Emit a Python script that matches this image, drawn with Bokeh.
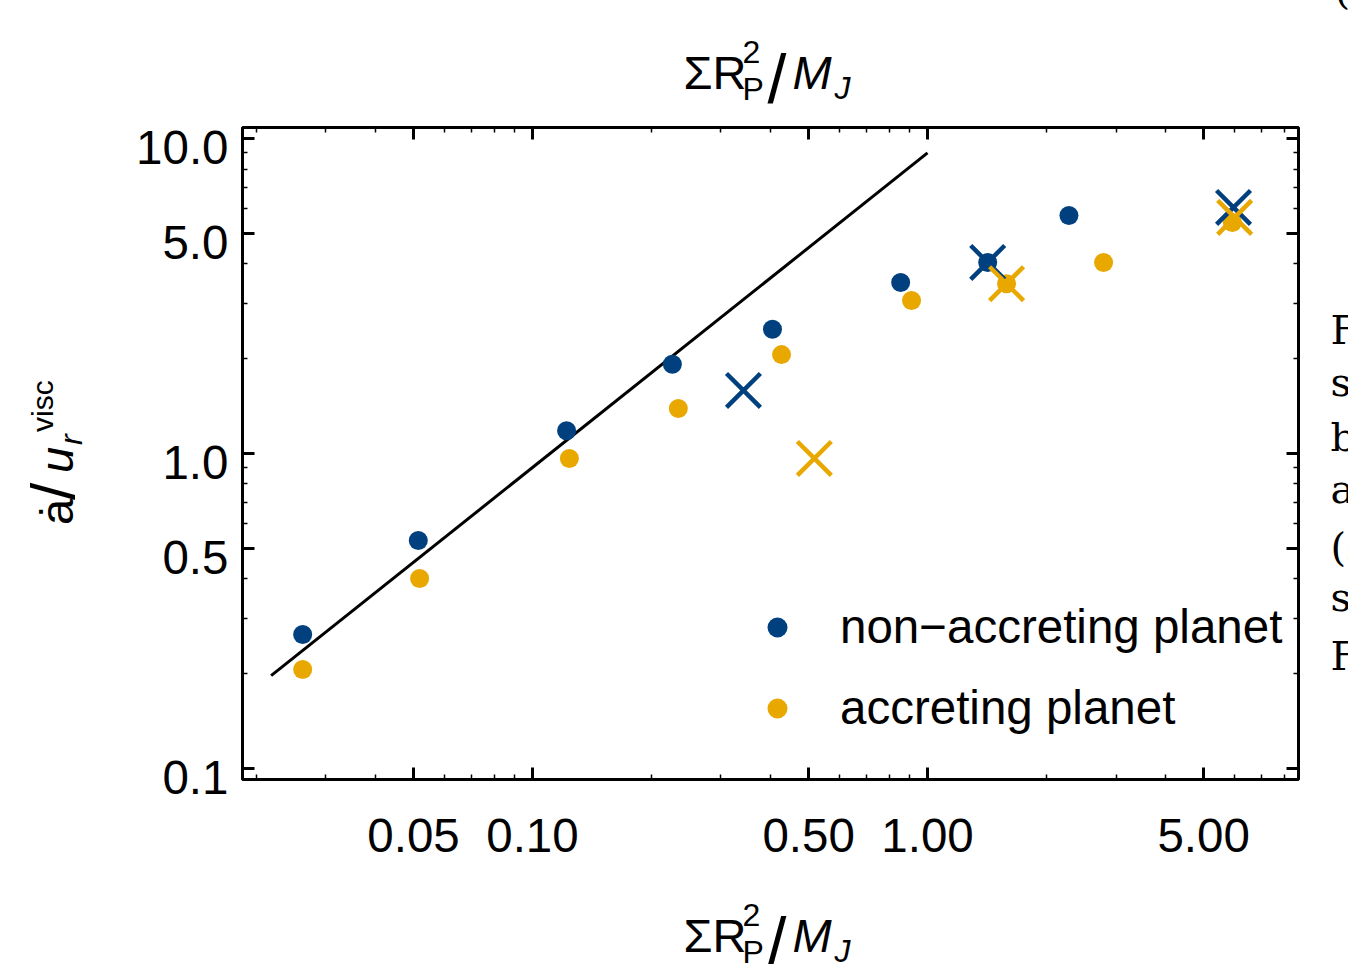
import math
from bokeh.plotting import figure
from bokeh.models import (LogAxis, FixedTicker, NumeralTickFormatter, CustomJSTickFormatter,
                          Range1d, LogScale, Legend, LegendItem, ColumnDataSource)
from bokeh.core.properties import value
from bokeh.embed import file_html
from bokeh.resources import INLINE

# ---------------- data ----------------
blue_x = [0.0262, 0.0514, 0.122, 0.226, 0.405, 0.855, 1.42, 2.28]
blue_y = [0.266, 0.529, 1.18, 1.92, 2.48, 3.49, 4.04, 5.70]
orange_x = [0.0262, 0.0518, 0.124, 0.234, 0.427, 0.911, 1.585, 2.79, 5.91]
orange_y = [0.206, 0.401, 0.964, 1.39, 2.06, 3.06, 3.46, 4.04, 5.41]
blue_cross_x = [0.342, 1.42, 5.95]
blue_cross_y = [1.585, 4.04, 6.04]
orange_cross_x = [0.517, 1.585, 5.99]
orange_cross_y = [0.964, 3.46, 5.62]
fit_x = [0.0218, 1.0]
fit_y = [0.197, 9.0]

x_ticks = [0.05, 0.1, 0.5, 1.0, 5.0]
x_minor = [0.02, 0.03, 0.04, 0.06, 0.07, 0.08, 0.09, 0.2, 0.3, 0.4,
           0.6, 0.7, 0.8, 0.9, 2, 3, 4, 6, 7, 8]
y_ticks = [0.1, 0.5, 1.0, 5.0, 10.0]
y_minor = [0.2, 0.3, 0.4, 0.6, 0.7, 0.8, 0.9, 2, 3, 4, 6, 7, 8, 9]

labels = ["non\u2212accreting planet", "accreting planet"]

BLUE = "#00407F"
ORANGE = "#E8A800"
FONT = "Liberation Sans"
SERIF = "DejaVu Serif"
FS = "47.5px"

XMIN, XMAX = 0.01845, 8.69
YMIN, YMAX = 0.0922, 10.84
K = 10 ** (9 / 315)  # tick-label vertical shift

FL, FB = 242, 779.5  # frame left / bottom in page pixels
BASE = 0.37          # baseline correction (fraction of font size)

p = figure(width=1348, height=964, x_axis_type="log", y_axis_type="log",
           x_range=Range1d(XMIN, XMAX), y_range=Range1d(YMIN, YMAX),
           output_backend="svg", toolbar_location=None,
           min_border_left=242, min_border_right=50,
           min_border_top=127, min_border_bottom=185)
p.grid.visible = False
p.outline_line_color = "black"
p.outline_line_width = 3
p.background_fill_color = "white"
p.border_fill_color = "white"


def style(ax, ticks, minor):
    ax.ticker = FixedTicker(ticks=ticks, minor_ticks=minor)
    ax.axis_line_color = None
    ax.major_tick_in = 12
    ax.major_tick_out = 0
    ax.major_tick_line_width = 3
    ax.major_tick_line_color = "black"
    ax.minor_tick_in = 5
    ax.minor_tick_out = 0
    ax.minor_tick_line_width = 1.5
    ax.minor_tick_line_color = "black"


def nolabels(ax):
    ax.formatter = CustomJSTickFormatter(code="return ''")
    ax.major_label_text_font_size = "1px"
    ax.major_label_standoff = 0


# bottom axis (with labels)
xb = p.xaxis[0]
style(xb, x_ticks, x_minor)
xb.formatter = NumeralTickFormatter(format="0.00")
xb.major_label_text_font = FONT
xb.major_label_text_font_size = FS
xb.major_label_text_color = "black"
xb.major_label_standoff = 39

# left axis: ticks only
yl = p.yaxis[0]
style(yl, y_ticks, y_minor)
nolabels(yl)

# left label axis (labels slightly below ticks, as in the reference)
p.extra_y_ranges = {"lab": Range1d(YMIN * K, YMAX * K)}
p.extra_y_scales = {"lab": LogScale()}
ylab = LogAxis(y_range_name="lab", ticker=FixedTicker(ticks=y_ticks),
               formatter=NumeralTickFormatter(format="0.0"))
ylab.axis_line_color = None
ylab.major_tick_line_color = None
ylab.minor_tick_line_color = None
ylab.major_tick_in = 0
ylab.major_tick_out = 0
ylab.minor_tick_in = 0
ylab.minor_tick_out = 0
ylab.major_label_text_font = FONT
ylab.major_label_text_font_size = FS
ylab.major_label_text_color = "black"
ylab.major_label_standoff = 14
p.add_layout(ylab, "left")

# top and right mirrored axes
xt = LogAxis()
style(xt, x_ticks, x_minor)
nolabels(xt)
p.add_layout(xt, "above")
yr = LogAxis()
style(yr, y_ticks, y_minor)
nolabels(yr)
p.add_layout(yr, "right")

# ---------------- glyphs ----------------
p.line(fit_x, fit_y, line_color="black", line_width=3)
rb = p.scatter(blue_x, blue_y, size=19, marker="circle", fill_color=BLUE, line_color=None)
ro = p.scatter(orange_x, orange_y, size=19, marker="circle", fill_color=ORANGE, line_color=None)
p.scatter(blue_cross_x, blue_cross_y, size=48, marker="x", line_color=BLUE, line_width=4.5)
p.scatter(orange_cross_x, orange_cross_y, size=48, marker="x", line_color=ORANGE, line_width=4.5)

legend = Legend(items=[LegendItem(label=value(labels[0]), renderers=[rb]),
                       LegendItem(label=value(labels[1]), renderers=[ro])],
                location=(510, 44), orientation="vertical", padding=0, margin=0,
                spacing=26, glyph_width=50, glyph_height=50, label_standoff=38,
                label_text_font=FONT, label_text_font_size=FS,
                label_text_color="black",
                border_line_color=None, background_fill_alpha=0)
p.add_layout(legend)

# ---------------- titles (composed from pieces, unclipped overlay text) ----------------
A = math.pi / 2
pieces = []  # (text, page_x, page_y_baseline, size, style, angle, font)


def xtitle(dy):
    pieces.extend([
        ("\u03a3R", 683, 90 + dy, 47, "normal", 0.0, FONT),
        ("2", 742, 64 + dy, 32, "normal", 0.0, FONT),
        ("P", 742, 101 + dy, 32, "normal", 0.0, FONT),
        ("/", 767, 104 + dy, 68, "normal", 0.0, FONT),
        ("M", 792, 90 + dy, 47, "italic", 0.0, FONT),
        ("J", 834, 100 + dy, 32, "italic", 0.0, FONT),
    ])


xtitle(0)
xtitle(863)
pieces.extend([
    ("\u0227", 73, 525, 47, "normal", A, FONT),
    ("/", 75, 500, 62, "normal", A, FONT),
    ("u", 73, 473, 47, "italic", A, FONT),
    ("r", 82, 445, 32, "italic", A, FONT),
    ("visc", 53, 432, 30, "normal", A, FONT),
])
for t, iy in [("(", 5), ("F", 345), ("s", 397), ("b", 452), ("a", 504),
              ("(s", 562), ("s", 612), ("F", 671)]:
    pieces.append((t, 1334 if t == "(" else 1330, iy, 40, "normal", 0.0, SERIF))


def px(q):
    return q[1] - FL - (BASE * q[3] if q[5] else 0.0)


def py(q):
    return q[2] - FB - (0.0 if q[5] else BASE * q[3])


src = ColumnDataSource(dict(
    x=[XMIN] * len(pieces), y=[YMIN] * len(pieces),
    text=[q[0] for q in pieces],
    xo=[px(q) for q in pieces],
    yo=[py(q) for q in pieces],
    fs=[f"{q[3]}px" for q in pieces],
    st=[q[4] for q in pieces],
    an=[q[5] for q in pieces],
    fn=[q[6] for q in pieces],
))
p.text(x="x", y="y", text="text", x_offset="xo", y_offset="yo",
       text_font_size="fs", text_font_style="st", angle="an", text_font="fn",
       text_baseline="alphabetic", text_align="left", text_color="black",
       source=src, level="overlay")

open("out.html", "w").write(file_html(p, INLINE))
